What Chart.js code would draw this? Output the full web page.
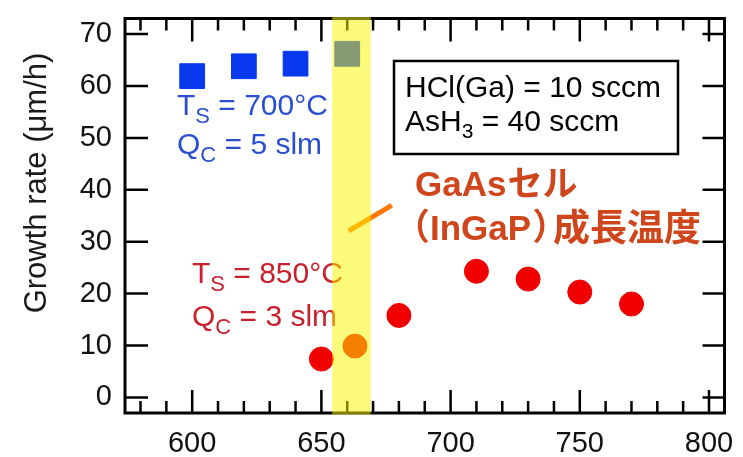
<!DOCTYPE html>
<html><head><meta charset="utf-8">
<script src="https://cdn.jsdelivr.net/npm/chart.js@4"></script>
<style>html,body{margin:0;padding:0;background:#fff;}canvas{display:block}</style>
</head><body>
<canvas id="c" width="743" height="457"></canvas>
<script>
// ---- data ----
const xTicks = [600, 650, 700, 750, 800];
const yTicks = [0, 10, 20, 30, 40, 50, 60, 70];
const xRange = [574, 806];
const yRange = [-3, 73];
const xMinorStep = 10;
const blueX = [600, 620, 640, 660];
const blueY = [61.9, 63.8, 64.3, 66.2];
const redX = [650, 663, 680, 710, 730, 750, 770];
const redY = [7.4, 9.9, 15.8, 24.3, 22.8, 20.3, 18.0];
const bandX = [654.2, 669.1];
const pointerX = [660.6, 677.2];
const pointerY = [32.1, 37.0];
const yTitle = 'Growth rate (μm/h)';

const FONT = '"Liberation Sans", Arial, sans-serif';
const CJK = '"Noto Sans CJK JP", sans-serif';

function drawSub(ctx, x, y, main, sub, rest, size, subSize, drop) {
  ctx.textAlign = 'left'; ctx.textBaseline = 'alphabetic';
  ctx.font = size + 'px ' + FONT;
  ctx.fillText(main, x, y);
  let w = ctx.measureText(main).width;
  ctx.font = subSize + 'px ' + FONT;
  ctx.fillText(sub, x + w, y + drop);
  w += ctx.measureText(sub).width;
  ctx.font = size + 'px ' + FONT;
  ctx.fillText(rest, x + w, y);
}

const framePlugin = {
  id: 'frame',
  beforeDatasetsDraw(chart) {
    const {ctx, chartArea: a, scales: {x, y}} = chart;
    ctx.save();
    ctx.strokeStyle = '#000';
    ctx.lineWidth = 2.5;
    ctx.beginPath();
    const start = Math.ceil(xRange[0] / xMinorStep) * xMinorStep;
    for (let v = start; v <= xRange[1]; v += xMinorStep) {
      const px = x.getPixelForValue(v);
      const len = xTicks.includes(v) ? 23 : 12;
      ctx.moveTo(px, a.bottom); ctx.lineTo(px, a.bottom - len);
      ctx.moveTo(px, a.top); ctx.lineTo(px, a.top + len);
    }
    yTicks.forEach(v => {
      const py = y.getPixelForValue(v);
      ctx.moveTo(a.left, py); ctx.lineTo(a.left + 23, py);
      ctx.moveTo(a.right, py); ctx.lineTo(a.right - 22, py);
    });
    ctx.stroke();
    ctx.lineWidth = 3;
    ctx.strokeRect(a.left, a.top, a.right - a.left, a.bottom - a.top);
    ctx.restore();
  },
  afterDatasetsDraw(chart) {
    const {ctx} = chart;
    ctx.save();
    // y title
    ctx.save();
    ctx.translate(37, 183);
    ctx.rotate(-Math.PI / 2);
    ctx.font = '31px ' + FONT;
    ctx.fillStyle = '#1a1a1a';
    ctx.textAlign = 'center'; ctx.textBaseline = 'middle';
    ctx.fillText(yTitle, 0, 0);
    ctx.restore();

    // blue annotation
    ctx.fillStyle = '#2a4fd0';
    drawSub(ctx, 177, 115, 'T', 'S', ' = 700°C', 30, 22, 8);
    drawSub(ctx, 177, 154, 'Q', 'C', ' = 5 slm', 30, 22, 8);
    // red annotation
    ctx.fillStyle = '#c8202c';
    drawSub(ctx, 192, 283, 'T', 'S', ' = 850°C', 30, 22, 8);
    drawSub(ctx, 192, 326, 'Q', 'C', ' = 3 slm', 30, 22, 8);

    // condition box
    ctx.strokeStyle = '#000'; ctx.lineWidth = 2.5;
    ctx.strokeRect(394, 61, 284, 93);
    ctx.fillStyle = '#000';
    ctx.font = '30px ' + FONT;
    ctx.textAlign = 'left'; ctx.textBaseline = 'alphabetic';
    ctx.fillText('HCl(Ga) = 10 sccm', 405, 97);
    drawSub(ctx, 405, 131, 'AsH', '3', ' = 40 sccm', 30, 21, 7);

    // orange label
    ctx.fillStyle = '#d0461c';
    ctx.textBaseline = 'alphabetic';
    ctx.font = 'bold 35px ' + FONT;
    ctx.textAlign = 'left';
    ctx.fillText('GaAs', 415, 196);
    let w = ctx.measureText('GaAs').width;
    ctx.font = 'bold 35px ' + CJK;
    ctx.fillText('セル', 415 + w + 1, 196);
    // second line: （InGaP）成長温度
    ctx.font = 'bold 36px ' + CJK;
    ctx.textAlign = 'right';
    ctx.fillText('（', 430, 240);
    ctx.textAlign = 'left';
    ctx.font = 'bold 35px ' + FONT;
    ctx.fillText('InGaP', 430, 240);
    w = ctx.measureText('InGaP').width;
    ctx.font = 'bold 36px ' + CJK;
    ctx.fillText('）', 430 + w + 1, 240);
    ctx.font = 'bold 37px ' + CJK;
    ctx.fillText('成長温度', 553, 241);
    ctx.restore();
  },
  afterDraw(chart) {
    const {ctx, chartArea: a, scales: {x}} = chart;
    const x0 = x.getPixelForValue(bandX[0]);
    const x1 = x.getPixelForValue(bandX[1]);
    ctx.save();
    ctx.fillStyle = 'rgba(250,245,0,0.52)';
    ctx.fillRect(x0, a.top - 1.5, x1 - x0, a.bottom - a.top + 3);
    ctx.restore();
  }
};

function fixScale(s) {
  s.paddingLeft = 0; s.paddingRight = 0; s.paddingTop = 0; s.paddingBottom = 0;
}

new Chart(document.getElementById('c'), {
  type: 'scatter',
  data: {
    datasets: [
      {
        label: 'pointer', type: 'line',
        data: pointerX.map((v, i) => ({x: v, y: pointerY[i]})),
        borderColor: '#ff7800', borderWidth: 5, pointRadius: 0, showLine: true, fill: false
      },
      {
        label: 'Ts=700', data: blueX.map((v, i) => ({x: v, y: blueY[i]})),
        pointStyle: 'rect', pointRadius: 17.5, backgroundColor: '#0838ee',
        borderColor: '#0838ee', borderWidth: 1
      },
      {
        label: 'Ts=850', data: redX.map((v, i) => ({x: v, y: redY[i]})),
        pointStyle: 'circle', pointRadius: 12, backgroundColor: '#f00000',
        borderColor: '#f00000', borderWidth: 1
      }
    ]
  },
  options: {
    responsive: false, animation: false, devicePixelRatio: 1,
    layout: {padding: {top: 12, right: 16, left: 0, bottom: 0}},
    plugins: {legend: {display: false}, tooltip: {enabled: false}},
    scales: {
      x: {
        type: 'linear', min: xRange[0], max: xRange[1],
        grid: {display: false, drawTicks: false}, border: {display: false},
        ticks: {font: {size: 29, family: FONT}, color: '#111', padding: 14, maxRotation: 0, autoSkip: false},
        afterBuildTicks(s) { s.ticks = xTicks.map(v => ({value: v})); },
        afterFit(s) { s.height = 44; fixScale(s); }
      },
      y: {
        type: 'linear', min: yRange[0], max: yRange[1],
        grid: {display: false, drawTicks: false}, border: {display: false},
        ticks: {font: {size: 29, family: FONT}, color: '#111', padding: 13, autoSkip: false},
        afterBuildTicks(s) { s.ticks = yTicks.map(v => ({value: v})); },
        afterFit(s) { s.width = 125; fixScale(s); }
      }
    }
  },
  plugins: [framePlugin]
});
</script>
</body></html>
